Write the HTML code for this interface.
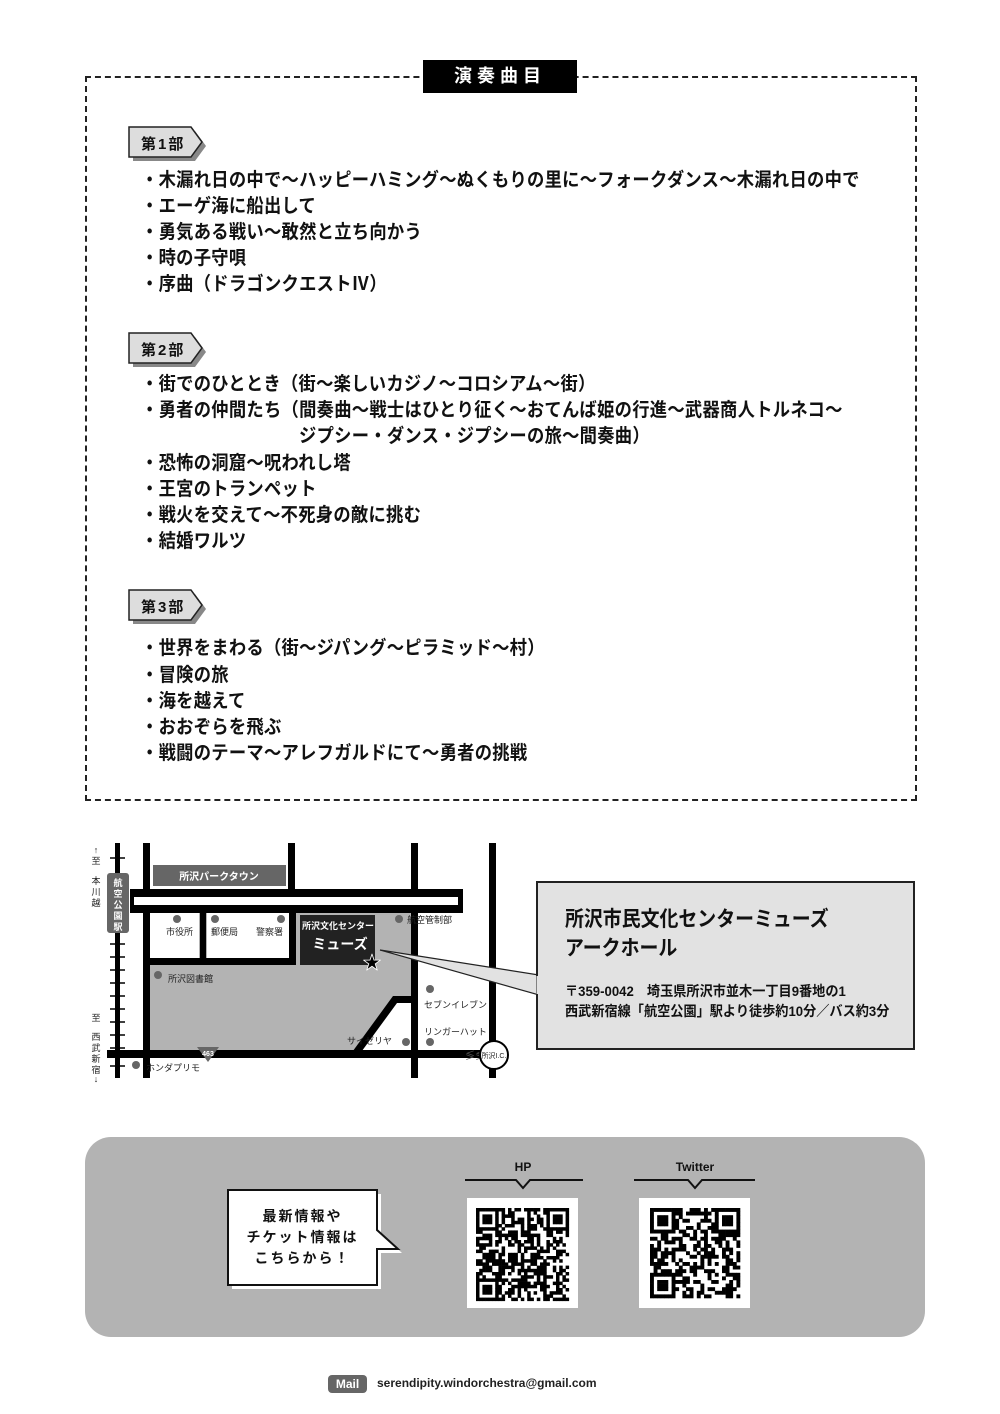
<!DOCTYPE html>
<html><head><meta charset="utf-8">
<style>
body{margin:0;background:#fff;}
#p{position:relative;width:1000px;height:1414px;overflow:hidden;font-family:"Liberation Sans","Noto Sans CJK JP",sans-serif;color:#111;}
.a{position:absolute;white-space:nowrap;}
.it{position:absolute;left:141px;font-size:19px;font-weight:bold;line-height:22px;white-space:nowrap;letter-spacing:0.3px;transform:scaleX(0.91);transform-origin:0 0;}
</style></head><body><div id="p">
<div class="a" style="left:85px;top:76px;width:828px;height:721px;border:2px dashed #222;"></div>
<div class="a" style="left:423px;top:60px;width:154px;height:33px;background:#000;color:#fff;font-size:18px;font-weight:bold;text-align:center;line-height:33px;letter-spacing:5px;">演奏曲目</div>

<svg class="a" style="left:0;top:0" width="1000" height="800">
<g id="t1"><polygon points="133,131 195,131 206,146 195,161 133,161" fill="#888"/><polygon points="129,127 191,127 202,142 191,157 129,157" fill="#ddd" stroke="#222" stroke-width="1.5"/></g>
<use href="#t1" y="206"/><use href="#t1" y="463"/>
</svg>
<div class="a" style="left:141px;top:133px;font-size:15px;font-weight:bold;letter-spacing:2px;">第1部</div>
<div class="a" style="left:141px;top:339px;font-size:15px;font-weight:bold;letter-spacing:2px;">第2部</div>
<div class="a" style="left:141px;top:596px;font-size:15px;font-weight:bold;letter-spacing:2px;">第3部</div>

<div class="it" style="top:170px">・木漏れ日の中で～ハッピーハミング～ぬくもりの里に～フォークダンス～木漏れ日の中で</div>
<div class="it" style="top:196px">・エーゲ海に船出して</div>
<div class="it" style="top:222px">・勇気ある戦い～敢然と立ち向かう</div>
<div class="it" style="top:248px">・時の子守唄</div>
<div class="it" style="top:274px">・序曲（ドラゴンクエストⅣ）</div>

<div class="it" style="top:374px">・街でのひととき（街～楽しいカジノ～コロシアム～街）</div>
<div class="it" style="top:400px">・勇者の仲間たち（間奏曲～戦士はひとり征く～おてんば姫の行進～武器商人トルネコ～</div>
<div class="it" style="top:426px;left:299px">ジプシー・ダンス・ジプシーの旅～間奏曲）</div>
<div class="it" style="top:453px">・恐怖の洞窟～呪われし塔</div>
<div class="it" style="top:479px">・王宮のトランペット</div>
<div class="it" style="top:505px">・戦火を交えて～不死身の敵に挑む</div>
<div class="it" style="top:531px">・結婚ワルツ</div>

<div class="it" style="top:638px">・世界をまわる（街～ジパング～ピラミッド～村）</div>
<div class="it" style="top:665px">・冒険の旅</div>
<div class="it" style="top:691px">・海を越えて</div>
<div class="it" style="top:717px">・おおぞらを飛ぶ</div>
<div class="it" style="top:743px">・戦闘のテーマ～アレフガルドにて～勇者の挑戦</div>

<!-- map -->
<svg class="a" style="left:0;top:0" width="1000" height="1100" font-family="Liberation Sans, Noto Sans CJK JP, sans-serif">
<polygon points="149,912 411,912 411,1051 149,1051" fill="#b3b3b3"/>
<rect x="150" y="912" width="49" height="48" fill="#fff"/>
<rect x="207" y="912" width="82" height="48" fill="#fff"/>
<polygon points="393,1001 411,1001 411,1051 356,1051" fill="#fff"/>
<rect x="146" y="958" width="150" height="7" fill="#000"/>
<rect x="200" y="910" width="6" height="52" fill="#000"/>
<rect x="289" y="905" width="7" height="58" fill="#000"/>
<rect x="115" y="843" width="5" height="235" fill="#000"/>
<g stroke="#000" stroke-width="1.5">
<line x1="110" y1="858" x2="125" y2="858"/><line x1="110" y1="944" x2="125" y2="944"/><line x1="110" y1="957" x2="125" y2="957"/><line x1="110" y1="970" x2="125" y2="970"/><line x1="110" y1="983" x2="125" y2="983"/><line x1="110" y1="996" x2="125" y2="996"/><line x1="110" y1="1009" x2="125" y2="1009"/><line x1="110" y1="1022" x2="125" y2="1022"/><line x1="110" y1="1035" x2="125" y2="1035"/><line x1="110" y1="1048" x2="125" y2="1048"/><line x1="110" y1="1066" x2="125" y2="1066"/>
</g>
<rect x="107" y="873" width="22" height="60" rx="3" fill="#666"/>
<g font-size="9" fill="#fff" text-anchor="middle" font-weight="bold">
<text x="118" y="886">航</text><text x="118" y="897">空</text><text x="118" y="908">公</text><text x="118" y="919">園</text><text x="118" y="930">駅</text>
</g>
<g font-size="9" fill="#222" text-anchor="middle">
<text x="96" y="853">↑</text><text x="96" y="864">至</text><text x="96" y="884">本</text><text x="96" y="895">川</text><text x="96" y="906">越</text>
<text x="96" y="1021">至</text><text x="96" y="1040">西</text><text x="96" y="1051">武</text><text x="96" y="1062">新</text><text x="96" y="1073">宿</text><text x="96" y="1082">↓</text>
</g>
<rect x="143" y="843" width="7" height="235" fill="#000"/>
<rect x="288" y="843" width="7" height="50" fill="#000"/>
<rect x="411" y="843" width="7" height="235" fill="#000"/>
<rect x="489" y="843" width="7" height="235" fill="#000"/>
<rect x="130" y="889" width="333" height="24" fill="#000"/>
<rect x="134" y="897" width="324" height="8" fill="#fff"/>
<rect x="107" y="1050" width="400" height="8" fill="#000"/>
<polygon points="393,996 414,996 414,1003 397,1003 359,1055 350,1055" fill="#000"/>
<rect x="153" y="865" width="133" height="21" fill="#666"/>
<text x="219" y="880" font-size="10" fill="#fff" text-anchor="middle" font-weight="bold">所沢パークタウン</text>
<rect x="300" y="915" width="75" height="50" fill="#222"/>
<text x="338" y="929" font-size="9" fill="#fff" text-anchor="middle" font-weight="bold">所沢文化センター</text>
<text x="340" y="949" font-size="14" fill="#fff" text-anchor="middle" font-weight="bold">ミューズ</text>
<text x="372" y="969" font-size="18" fill="#000" text-anchor="middle" stroke="#fff" stroke-width="0.8">★</text>
<g fill="#666"><circle cx="177" cy="919" r="4"/><circle cx="215" cy="919" r="4"/><circle cx="281" cy="919" r="4"/><circle cx="399" cy="919" r="4"/><circle cx="158" cy="975" r="4"/><circle cx="430" cy="989" r="4"/><circle cx="406" cy="1042" r="4"/><circle cx="430" cy="1042" r="4"/><circle cx="136" cy="1065" r="4"/></g>
<g font-size="9" fill="#222">
<text x="166" y="935">市役所</text><text x="211" y="935">郵便局</text><text x="256" y="935">警察署</text>
<text x="407" y="923">航空管制部</text><text x="168" y="982">所沢図書館</text>
<text x="424" y="1008">セブンイレブン</text><text x="424" y="1035">リンガーハット</text>
<text x="347" y="1044">サイゼリヤ</text><text x="146" y="1071">ホンダプリモ</text>
</g>
<polygon points="197,1047 219,1047 208,1062" fill="#666"/><text x="208" y="1056" font-size="7" fill="#fff" text-anchor="middle" font-weight="bold">463</text>
<text x="465" y="1059" font-size="10" fill="#555">≶≶</text>
<circle cx="494" cy="1055" r="14" fill="#fff" stroke="#000" stroke-width="2"/>
<text x="494" y="1058" font-size="7" text-anchor="middle" fill="#222">所沢I.C.</text>
<polygon points="380,950 539,975 539,995" fill="#e2e2e2" stroke="#222" stroke-width="1.2"/>
<rect x="537" y="882" width="377" height="167" fill="#e2e2e2" stroke="#222" stroke-width="2"/>
<line x1="538" y1="976" x2="538" y2="994" stroke="#e2e2e2" stroke-width="3"/>
</svg>
<div class="a" style="left:565px;top:905px;font-size:21px;font-weight:bold;line-height:29px;transform:scaleX(0.9);transform-origin:0 0;">所沢市民文化センターミューズ<br>アークホール</div>
<div class="a" style="left:565px;top:981px;font-size:14px;font-weight:bold;line-height:20px;transform:scaleX(0.94);transform-origin:0 0;">〒359-0042　埼玉県所沢市並木一丁目9番地の1<br>西武新宿線「航空公園」駅より徒歩約10分／バス約3分</div>

<!-- bottom -->
<div class="a" style="left:85px;top:1137px;width:840px;height:200px;background:#b3b3b3;border-radius:26px;"></div>
<svg class="a" style="left:0;top:1100px" width="1000" height="300">
<polygon points="232,94 381,94 381,133 402,153 381,153 381,189 232,189" fill="#fff"/>
<polygon points="228,90 377,90 377,130 398,149 377,149 377,185 228,185" fill="#fff" stroke="#111" stroke-width="2"/>
<polyline points="465,80 516,80 523,88 530,80 583,80" fill="none" stroke="#111" stroke-width="2"/>
<polyline points="634,80 688,80 695,88 702,80 755,80" fill="none" stroke="#111" stroke-width="2"/>
<rect x="467" y="98" width="111" height="110" fill="#fff"/>
<rect x="639" y="98" width="111" height="110" fill="#fff"/>
<g id="qr"></g>
</svg>
<div class="a" style="left:228px;top:1206px;width:149px;text-align:center;font-size:14px;font-weight:bold;line-height:21px;letter-spacing:2px;">最新情報や<br>チケット情報は<br>こちらから！</div>
<div class="a" style="left:500px;top:1160px;width:46px;text-align:center;font-size:12px;font-weight:bold;">HP</div>
<div class="a" style="left:665px;top:1160px;width:60px;text-align:center;font-size:12px;font-weight:bold;">Twitter</div>
<div class="a" style="left:328px;top:1375px;width:39px;height:18px;background:#666;border-radius:4px;color:#fff;font-size:12px;font-weight:bold;text-align:center;line-height:18px;">Mail</div>
<div class="a" style="left:377px;top:1376px;font-size:12px;font-weight:bold;color:#222;">serendipity.windorchestra@gmail.com</div>
<script>
(function(){
var g=document.getElementById('qr'),ns='http://www.w3.org/2000/svg',s=7;
function r(){s=(s*9301+49297)%233280;return s/233280;}
function draw(x0,y0,n,c){
 for(var i=0;i<n;i++)for(var j=0;j<n;j++){
  var f=function(a,b){return a<7&&b<7;};
  var inF=f(i,j)||f(n-1-i,j)||f(i,n-1-j);
  var on;
  if(inF){var a=i<7?i:n-1-i,b=j<7?j:n-1-j;if(i>=7&&n-1-i<7)a=n-1-i;if(j>=7&&n-1-j<7)b=n-1-j;
   var m=Math.min(a,b,6-a,6-b);on=(m==0||m>=2);}
  else on=r()<0.5;
  if(on){var e=document.createElementNS(ns,'rect');e.setAttribute('x',x0+i*c);e.setAttribute('y',y0+j*c);e.setAttribute('width',c+0.3);e.setAttribute('height',c+0.3);e.setAttribute('fill','#000');g.appendChild(e);}
 }
}
draw(476,108,29,3.2);
draw(650,108,25,3.6);
})();
</script>
</div></body></html>
